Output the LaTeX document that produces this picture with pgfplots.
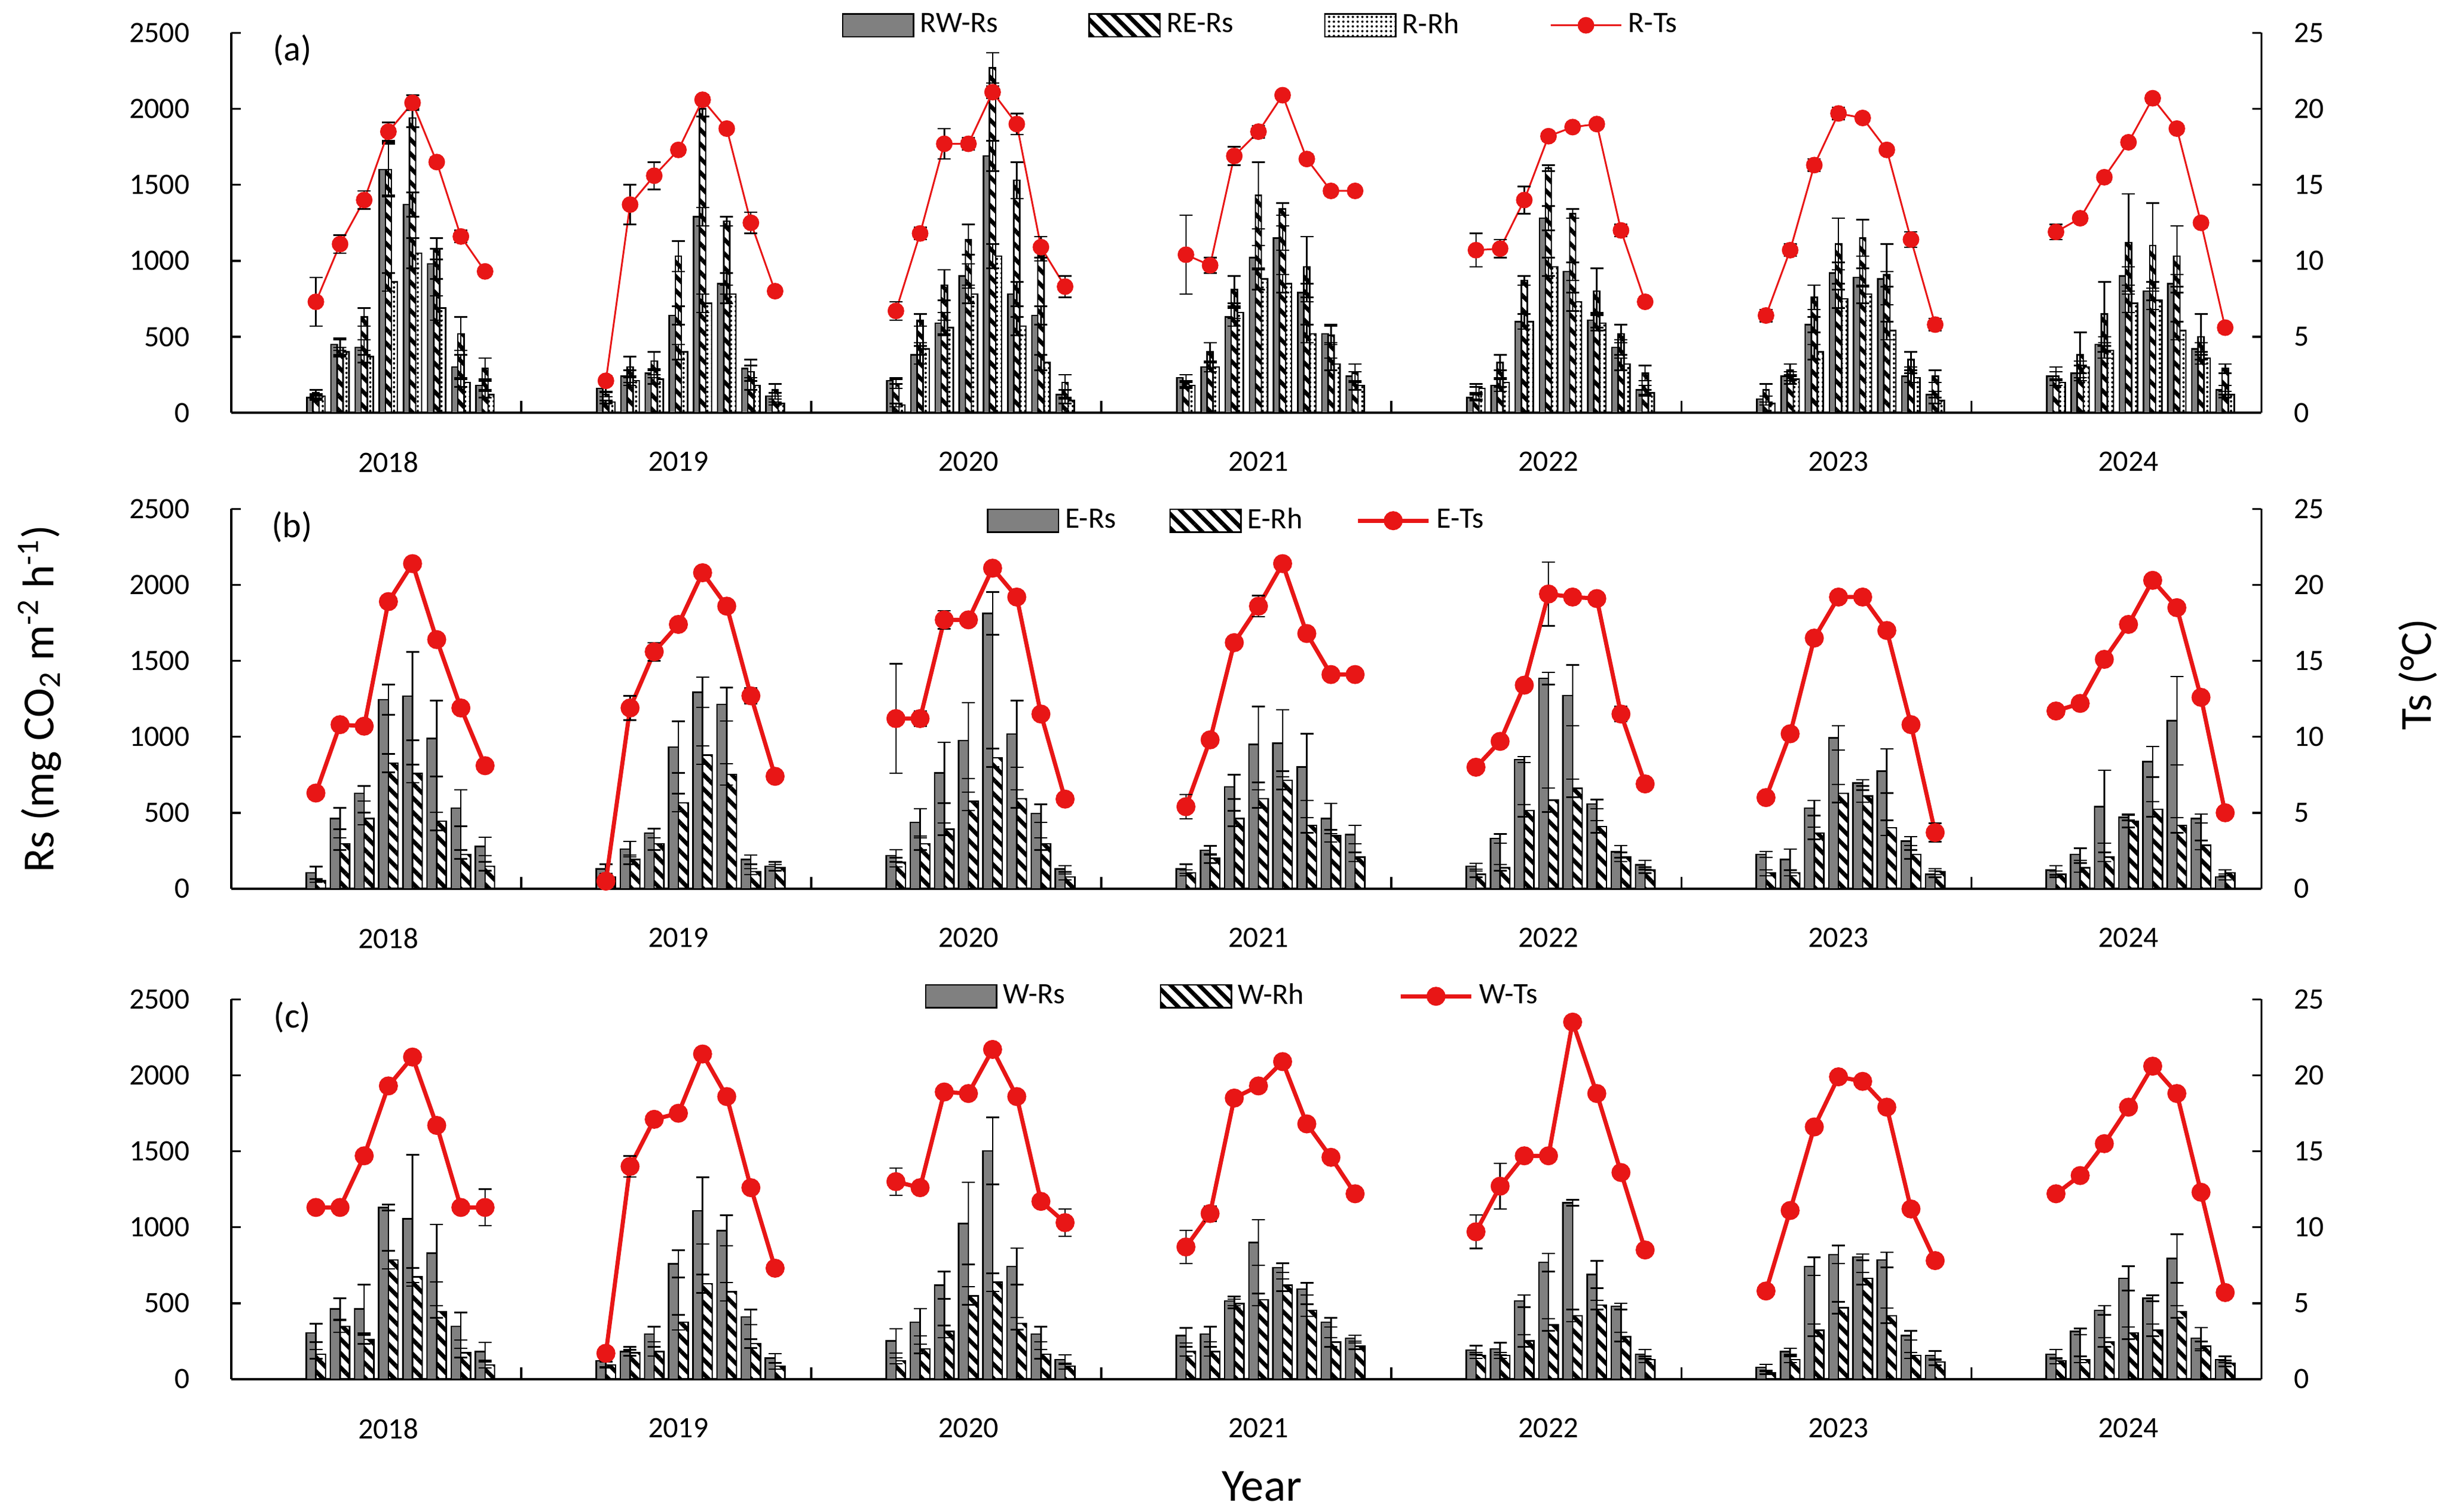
\documentclass[border=0pt]{standalone}
\usepackage{fontspec}
\setmainfont{Carlito}
\usepackage{pgfplots}
\usepackage{pgfplotstable}
\pgfplotsset{compat=1.18}
\usetikzlibrary{patterns.meta}

\definecolor{tsred}{RGB}{232,22,22}
\definecolor{bargray}{RGB}{128,128,128}

% panel (a): RW-Rs, RE-Rs, R-Rh and R-Ts (yr 0 = 2018, m = month)
\pgfplotstableread{
yr m rw rwe re ree rh rhe ts tse
0 4 100 15 130 20 110 15 7.3 1.6
0 5 450 40 430 50 400 30 11.1 0.6
0 6 430 50 630 60 370 40 14.0 0.6
0 7 1600 170 1600 180 860 60 18.5 0.6
0 8 1370 80 1940 60 1050 100 20.4 0.5
0 9 980 100 1080 70 690 80 16.5 0.3
0 10 300 80 520 110 200 30 11.6 0.4
0 11 180 30 290 70 120 20 9.3 0.3
1 4 160 20 120 15 70 10 2.1 0.3
1 5 240 40 300 70 210 30 13.7 1.3
1 6 260 30 340 60 220 30 15.6 0.9
1 7 640 60 1030 100 400 50 17.3 0.3
1 8 1290 60 2000 50 720 60 20.6 0.3
1 9 850 70 1260 30 780 60 18.7 0.2
1 10 290 60 270 40 180 30 12.5 0.7
1 11 110 20 150 40 60 10 8.0 0.3
2 4 210 20 190 30 50 10 6.7 0.6
2 5 380 60 610 40 420 40 11.8 0.4
2 6 590 70 840 100 560 50 17.7 1.0
2 7 900 80 1140 100 780 60 17.7 0.4
2 8 1690 100 2270 100 1030 80 21.1 0.4
2 9 780 80 1530 120 570 60 19.0 0.7
2 10 640 60 1080 80 330 50 10.9 0.7
2 11 120 30 200 50 80 20 8.3 0.7
3 4 230 20 190 20 180 20 10.4 2.6
3 5 300 30 400 60 300 30 9.7 0.5
3 6 630 60 810 90 660 40 16.9 0.6
3 7 1020 80 1430 220 880 70 18.5 0.4
3 8 1150 80 1340 40 850 60 20.9 0.3
3 9 790 60 960 200 520 60 16.7 0.3
3 10 520 60 510 60 320 40 14.6 0.3
3 11 240 30 260 60 180 30 14.6 0.3
4 4 100 20 130 40 160 30 10.7 1.1
4 5 180 40 330 50 200 30 10.8 0.6
4 6 600 50 870 30 600 50 14.0 0.9
4 7 1280 80 1610 20 960 60 18.2 0.3
4 8 930 60 1310 30 730 60 18.8 0.3
4 9 610 50 800 150 590 50 19.0 0.3
4 10 430 50 520 60 320 40 12.0 0.4
4 11 150 30 260 50 130 20 7.3 0.3
5 4 90 20 150 40 60 10 6.4 0.4
5 5 240 30 280 40 220 30 10.7 0.4
5 6 580 50 760 80 400 50 16.3 0.4
5 7 920 70 1110 170 750 60 19.7 0.4
5 8 890 60 1150 120 780 60 19.4 0.3
5 9 880 50 910 200 540 60 17.3 0.3
5 10 240 40 350 50 230 30 11.4 0.5
5 11 120 20 240 40 80 20 5.8 0.4
6 4 240 60 240 30 200 20 11.9 0.5
6 5 260 50 380 150 300 40 12.8 0.3
6 6 450 50 650 210 410 50 15.5 0.3
6 7 900 60 1120 320 720 60 17.8 0.3
6 8 800 60 1100 280 740 60 20.7 0.3
6 9 850 60 1030 200 540 60 18.7 0.3
6 10 420 40 500 150 360 40 12.5 0.3
6 11 150 30 290 30 120 20 5.6 0.3
}\tabA

% panel (b): E-Rs, E-Rh and E-Ts
\pgfplotstableread{
yr m rs rse rh rhe ts tse
0 4 105 40 52 10 6.3 0.4
0 5 462 70 296 40 10.8 0.4
0 6 627 50 462 40 10.7 0.3
0 7 1245 100 827 60 18.9 0.3
0 8 1268 290 758 60 21.4 0.3
0 9 989 250 444 60 16.4 0.3
0 10 531 120 226 30 11.9 0.3
0 11 279 60 148 30 8.1 0.3
1 4 131 30 78 20 0.5 0.3
1 5 261 50 192 30 11.9 0.8
1 6 366 30 296 40 15.6 0.6
1 7 932 170 566 60 17.4 0.3
1 8 1293 100 880 60 20.8 0.3
1 9 1214 110 753 70 18.6 0.3
1 10 192 30 113 20 12.7 0.5
1 11 148 30 139 20 7.4 0.4
2 4 218 40 174 30 11.2 3.6
2 5 436 90 296 40 11.2 0.5
2 6 763 200 392 40 17.7 0.6
2 7 976 250 575 60 17.7 0.3
2 8 1812 140 862 60 21.1 0.3
2 9 1019 220 592 60 19.2 0.3
2 10 496 60 296 40 11.5 0.3
2 11 131 20 78 20 5.9 0.3
3 4 131 30 105 20 5.4 0.8
3 5 253 30 200 30 9.8 0.3
3 6 671 80 462 50 16.2 0.4
3 7 950 250 592 60 18.6 0.7
3 8 958 220 714 60 21.4 0.3
3 9 801 220 418 50 16.8 0.3
3 10 462 100 348 40 14.1 0.3
3 11 357 60 209 30 14.1 0.3
4 4 148 20 96 20 8.0 0.4
4 5 331 30 139 20 9.7 0.4
4 6 850 20 514 40 13.4 0.4
4 7 1385 40 584 80 19.4 2.1
4 8 1272 200 662 60 19.2 0.3
4 9 557 30 409 40 19.1 0.3
4 10 244 40 209 30 11.5 0.5
4 11 157 30 122 20 6.9 0.3
5 4 226 20 105 20 6.0 0.3
5 5 192 70 105 20 10.2 0.3
5 6 531 50 366 40 16.5 0.4
5 7 993 80 627 60 19.2 0.3
5 8 697 20 610 40 19.2 0.3
5 9 775 145 401 50 17.0 0.3
5 10 314 30 226 30 10.8 0.3
5 11 96 20 113 20 3.7 0.6
6 4 122 30 96 20 11.7 0.4
6 5 226 40 139 30 12.2 0.3
6 6 540 240 209 30 15.1 0.3
6 7 470 20 444 40 17.4 0.3
6 8 836 100 523 50 20.3 0.3
6 9 1106 290 418 50 18.5 0.3
6 10 462 30 287 30 12.6 0.3
6 11 78 20 105 20 5.0 0.3
}\tabB

% panel (c): W-Rs, W-Rh and W-Ts
\pgfplotstableread{
yr m rs rse rh rhe ts tse
0 4 304 60 164 30 11.3 0.4
0 5 462 70 348 40 11.3 0.3
0 6 462 160 261 30 14.7 0.3
0 7 1130 20 785 60 19.3 0.3
0 8 1056 420 672 60 21.2 0.3
0 9 829 190 444 40 16.7 0.3
0 10 348 90 173 30 11.3 0.3
0 11 182 60 94 20 11.3 1.2
1 4 121 40 94 20 1.7 0.3
1 5 182 30 173 20 14.0 0.7
1 6 296 50 182 30 17.1 0.3
1 7 759 90 374 50 17.5 0.3
1 8 1109 220 628 60 21.4 0.3
1 9 978 100 575 60 18.6 0.3
1 10 409 50 234 30 12.6 0.3
1 11 138 30 86 20 7.3 0.3
2 4 252 80 121 20 13.0 0.9
2 5 374 90 199 30 12.6 0.3
2 6 619 90 313 40 18.9 0.3
2 7 1025 270 549 60 18.8 0.3
2 8 1502 220 637 60 21.7 0.3
2 9 742 120 366 40 18.6 0.3
2 10 296 50 164 30 11.7 0.3
2 11 129 30 86 20 10.3 0.9
3 4 287 50 182 30 8.7 1.1
3 5 296 50 182 30 10.9 0.5
3 6 514 30 497 30 18.5 0.3
3 7 899 150 523 40 19.3 0.3
3 8 733 30 619 40 20.9 0.3
3 9 593 40 453 40 16.8 0.3
3 10 374 30 243 30 14.6 0.3
3 11 269 20 217 20 12.2 0.3
4 4 191 30 156 20 9.7 1.1
4 5 199 40 156 20 12.7 1.5
4 6 514 40 252 40 14.7 0.3
4 7 768 60 357 40 14.7 0.3
4 8 1161 20 418 40 23.5 0.3
4 9 689 90 488 30 18.8 0.3
4 10 479 20 278 30 13.6 0.3
4 11 164 30 129 20 8.5 0.3
5 4 77 20 42 10 5.8 0.3
5 5 182 20 129 20 11.1 0.3
5 6 742 60 322 40 16.6 0.3
5 7 820 60 470 40 19.9 0.3
5 8 803 20 663 40 19.6 0.3
5 9 785 50 418 50 17.9 0.4
5 10 287 30 156 20 11.2 0.3
5 11 156 30 112 20 7.8 0.4
6 4 164 30 121 20 12.2 0.4
6 5 313 20 129 20 13.4 0.3
6 6 453 30 243 30 15.5 0.3
6 7 663 80 304 40 17.9 0.3
6 8 532 20 322 40 20.6 0.3
6 9 794 160 444 40 18.8 0.3
6 10 269 70 217 30 12.3 0.3
6 11 129 20 103 20 5.7 0.3
}\tabC

\pgfplotsset{
  table/mx/.style={x expr=12*\thisrow{yr}+\thisrow{m}-0.5},
  base/.style={scale only axis, width=24.05cm, height=4.5cm, xmin=0, xmax=84,
    anchor=south west, tick align=inside, major tick length=0.11cm,
    axis line style={line width=0.7pt, black},
    every tick/.style={black, line width=0.7pt},
    tick label style={font=\fontsize{10}{12}\selectfont},
    /pgf/number format/1000 sep={}, /pgf/number format/assume math mode=true},
  leftax/.style={base, ymin=0, ymax=2500, ytick={0,500,...,2500},
    axis x line*=bottom, axis y line*=left,
    xtick={6.5,18.5,30.5,42.5,54.5,66.5,78.5},
    xticklabels={2018,2019,2020,2021,2022,2023,2024},
    major x tick style={draw=none},
    minor xtick={12,24,36,48,60,72}, minor tick length=0.14cm,
    xticklabel style={yshift=-0.34cm},
    yticklabel style={xshift=-0.37cm},
    legend style={draw=none, fill=none, legend columns=-1, anchor=center,
      font=\fontsize{10}{12}\selectfont},
    legend cell align=left},
  rightax/.style={base, ymin=0, ymax=25, ytick={0,5,...,25},
    axis x line=none, axis y line*=right,
    yticklabel style={xshift=0.26cm}},
  barleg/.style={legend image code/.code={\draw[##1] (0cm,-0.135cm) rectangle (0.84cm,0.135cm);}},
  lineleg/.style={legend image code/.code={\draw[mark repeat=2,mark phase=2,##1] plot coordinates {(0cm,0cm) (0.42cm,0cm) (0.84cm,0cm)};}},
  errs/.style={error bars/y dir=both, error bars/y explicit,
    error bars/error bar style={black, line width=0.5pt},
    error bars/error mark options={rotate=90, black, line width=0.5pt, mark size=2.2pt}},
  sGray/.style={ybar, barleg, fill=bargray, draw=black, line width=0.5pt, errs},
  sHatch/.style={ybar, barleg, draw=black, line width=0.5pt,
    pattern={Lines[angle=-45, distance=3.4pt, line width=1.4pt]}, pattern color=black, errs},
  sDots/.style={ybar, barleg, draw=black, line width=0.5pt,
    pattern={Dots[distance=1.6pt, radius=0.4pt]}, pattern color=black, errs},
  tsline/.style={lineleg, draw=tsred, mark=*, mark size=2.5pt,
    mark options={fill=tsred, draw=tsred, solid}, errs},
}

\begin{document}
\begin{tikzpicture}

% ---------- panel (a)
\begin{axis}[leftax, at={(0cm,11.45cm)}, bar width=0.25,
    legend style={at={(0.508,1.02)}, /tikz/every even column/.append style={column sep=1.0cm}}]
  \addplot[sGray, bar shift=-0.25] table[mx, y=rw, y error=rwe] {\tabA};
  \addlegendentry{RW-Rs}
  \addplot[sHatch, bar shift=0] table[mx, y=re, y error=ree] {\tabA};
  \addlegendentry{RE-Rs}
  \addplot[sDots, bar shift=0.25] table[mx, y=rh, y error=rhe] {\tabA};
  \addlegendentry{R-Rh}
  \addlegendimage{tsline, line width=0.6pt}
  \addlegendentry{R-Ts}
  \node[font=\fontsize{12}{14}\selectfont] at (rel axis cs:0.03,0.955) {(a)};
\end{axis}
\begin{axis}[rightax, at={(0cm,11.45cm)}]
  \pgfplotsinvokeforeach{0:12,12:24,24:36,36:48,48:60,60:72,72:84}{
    \addplot[tsline, line width=0.6pt, restrict x to domain=#1] table[mx, y=ts, y error=tse] {\tabA};
  }
\end{axis}

% ---------- panel (b)
\begin{axis}[leftax, at={(0cm,5.81cm)}, bar width=0.4,
    legend style={at={(0.496,0.969)}, /tikz/every even column/.append style={column sep=0.56cm}}]
  \addplot[sGray, bar shift=-0.2] table[mx, y=rs, y error=rse] {\tabB};
  \addlegendentry{E-Rs}
  \addplot[sHatch, bar shift=0.2] table[mx, y=rh, y error=rhe] {\tabB};
  \addlegendentry{E-Rh}
  \addlegendimage{tsline, line width=1.4pt}
  \addlegendentry{E-Ts}
  \node[font=\fontsize{12}{14}\selectfont] at (rel axis cs:0.03,0.952) {(b)};
\end{axis}
\begin{axis}[rightax, at={(0cm,5.81cm)}]
  \pgfplotsinvokeforeach{0:12,12:24,24:36,36:48,48:60,60:72,72:84}{
    \addplot[tsline, line width=1.4pt, restrict x to domain=#1] table[mx, y=ts, y error=tse] {\tabB};
  }
\end{axis}

% ---------- panel (c)
\begin{axis}[leftax, at={(0cm,0cm)}, bar width=0.4,
    legend style={at={(0.494,1.008)}, /tikz/every even column/.append style={column sep=1.05cm}}]
  \addplot[sGray, bar shift=-0.2] table[mx, y=rs, y error=rse] {\tabC};
  \addlegendentry{W-Rs}
  \addplot[sHatch, bar shift=0.2] table[mx, y=rh, y error=rhe] {\tabC};
  \addlegendentry{W-Rh}
  \addlegendimage{tsline, line width=1.4pt}
  \addlegendentry{W-Ts}
  \node[font=\fontsize{12}{14}\selectfont] at (rel axis cs:0.03,0.952) {(c)};
\end{axis}
\begin{axis}[rightax, at={(0cm,0cm)}]
  \pgfplotsinvokeforeach{0:12,12:24,24:36,36:48,48:60,60:72,72:84}{
    \addplot[tsline, line width=1.4pt, restrict x to domain=#1] table[mx, y=ts, y error=tse] {\tabC};
  }
\end{axis}

\node[rotate=90, font=\fontsize{15}{18}\selectfont] at (-2.27,8.06)
  {Rs (mg CO\textsubscript{2} m\textsuperscript{-2} h\textsuperscript{-1})};
\node[rotate=90, font=\fontsize{15}{18}\selectfont] at (25.90,8.35) {Ts (°C)};
\node[font=\fontsize{15.5}{18}\selectfont] at (12.21,-1.27) {Year};

\pgfresetboundingbox
\path[use as bounding box] (-2.74,-1.574) rectangle (26.26,16.34);
\end{tikzpicture}
\end{document}
